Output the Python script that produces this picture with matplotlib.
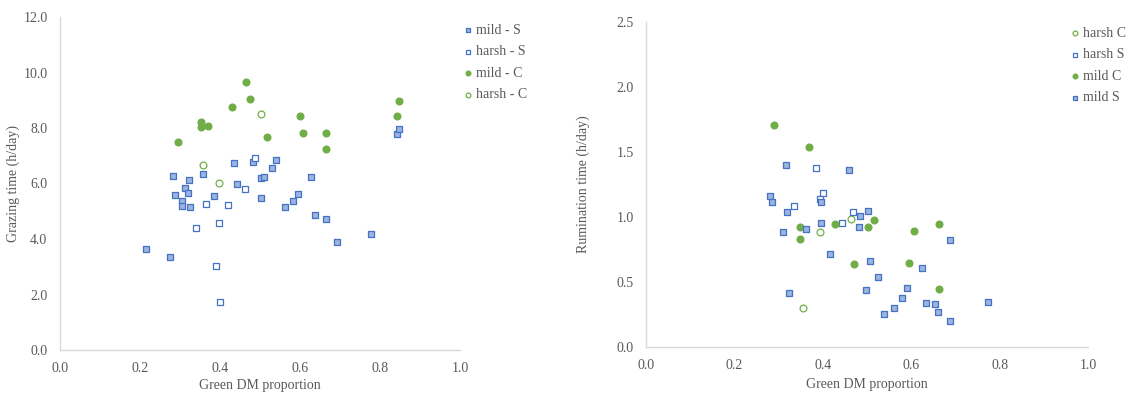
import matplotlib
matplotlib.use("Agg")
import matplotlib.pyplot as plt

# ---------------- Left chart: grazing time ----------------
g_mild_s_x = [0.283, 0.323, 0.358, 0.435, 0.482, 0.541, 0.530, 0.503, 0.511, 0.628,
              0.442, 0.287, 0.312, 0.319, 0.385, 0.502, 0.595, 0.842, 0.848, 0.304,
              0.305, 0.325, 0.5625, 0.5825, 0.637, 0.664, 0.6925, 0.777, 0.214, 0.276]
g_mild_s_y = [6.28, 6.14, 6.34, 6.74, 6.76, 6.85, 6.57, 6.19, 6.22, 6.25,
              5.99, 5.60, 5.85, 5.66, 5.54, 5.47, 5.62, 7.77, 7.97, 5.37,
              5.19, 5.16, 5.16, 5.38, 4.85, 4.71, 3.90, 4.17, 3.64, 3.36]
g_harsh_s_x = [0.4875, 0.462, 0.365, 0.420, 0.339, 0.397, 0.390, 0.400]
g_harsh_s_y = [6.93, 5.79, 5.25, 5.23, 4.41, 4.56, 3.02, 1.73]
g_mild_c_x = [0.294, 0.3525, 0.3525, 0.371, 0.430, 0.466, 0.476, 0.5175, 0.599, 0.608,
              0.666, 0.666, 0.842, 0.848]
g_mild_c_y = [7.49, 8.23, 8.02, 8.08, 8.77, 9.67, 9.03, 7.66, 8.43, 7.83,
              7.83, 7.23, 8.43, 8.97]
g_harsh_c_x = [0.503, 0.357, 0.397]
g_harsh_c_y = [8.52, 6.68, 6.03]

# ---------------- Right chart: rumination time ----------------
r_harsh_c_x = [0.355, 0.394, 0.464]
r_harsh_c_y = [0.295, 0.885, 0.985]
r_harsh_s_x = [0.385, 0.400, 0.394, 0.3355, 0.4445, 0.468]
r_harsh_s_y = [1.377, 1.180, 1.134, 1.082, 0.954, 1.039]
r_mild_c_x = [0.290, 0.369, 0.349, 0.349, 0.428, 0.516, 0.5015, 0.606, 0.664, 0.4705,
              0.596, 0.662]
r_mild_c_y = [1.705, 1.540, 0.923, 0.826, 0.941, 0.972, 0.923, 0.892, 0.941, 0.636,
              0.644, 0.441]
r_mild_s_x = [0.317, 0.459, 0.281, 0.286, 0.396, 0.320, 0.310, 0.363, 0.395, 0.485,
              0.5015, 0.481, 0.688, 0.417, 0.507, 0.625, 0.525, 0.498, 0.590, 0.324,
              0.580, 0.5605, 0.5385, 0.6325, 0.654, 0.6605, 0.688, 0.7735]
r_mild_s_y = [1.400, 1.360, 1.162, 1.113, 1.113, 1.034, 0.880, 0.905, 0.949, 1.003,
              1.046, 0.918, 0.821, 0.710, 0.659, 0.608, 0.534, 0.434, 0.454, 0.410,
              0.377, 0.295, 0.251, 0.336, 0.326, 0.270, 0.195, 0.341]

x_ticks = [0.0, 0.2, 0.4, 0.6, 0.8, 1.0]
g_ticks = [0.0, 2.0, 4.0, 6.0, 8.0, 10.0, 12.0]
r_ticks = [0.0, 0.5, 1.0, 1.5, 2.0, 2.5]

plt.rcParams['font.family'] = ['Liberation Serif', 'DejaVu Serif']

BLUE_E = '#4472c4'
BLUE_F = '#9db3e0'
GREEN = '#70ad47'
GREY = '#595959'
SPINE = '#d9d9d9'

fig = plt.figure(figsize=(11.36, 3.94), dpi=100)
axL = fig.add_axes([60/1136, 44/394, 400/1136, 333/394])
axR = fig.add_axes([646/1136, 47.3/394, 442/1136, 324.7/394])

sq = dict(marker='s', s=24, linewidths=0.9)
ci = dict(marker='o', s=24, linewidths=0.9)


def style(ax, yticks, ylabel, xpad, ypad):
    ax.set_xlim(0, 1.0)
    ax.set_ylim(yticks[0], yticks[-1])
    ax.set_xticks(x_ticks)
    ax.set_xticklabels([f"{t:.1f}" for t in x_ticks])
    ax.set_yticks(yticks)
    ax.set_yticklabels([f"{t:.1f}" for t in yticks])
    for s in ['top', 'right']:
        ax.spines[s].set_visible(False)
    for s in ['left', 'bottom']:
        ax.spines[s].set_color(SPINE)
        ax.spines[s].set_linewidth(1.0)
    ax.tick_params(length=0, labelsize=10, colors=GREY, pad=9)
    ax.set_xlabel('Green DM proportion', fontsize=10, color=GREY, labelpad=xpad)
    ax.set_ylabel(ylabel, fontsize=10, color=GREY, labelpad=ypad)


hL = []
hL.append(axL.scatter(g_mild_s_x, g_mild_s_y, facecolor=BLUE_F, edgecolor=BLUE_E, label='mild - S', zorder=3, **sq))
hL.append(axL.scatter(g_harsh_s_x, g_harsh_s_y, facecolor='white', edgecolor=BLUE_E, label='harsh - S', zorder=3, **sq))
hL.append(axL.scatter(g_mild_c_x, g_mild_c_y, facecolor=GREEN, edgecolor=GREEN, label='mild - C', zorder=3, **ci))
hL.append(axL.scatter(g_harsh_c_x, g_harsh_c_y, facecolor='white', edgecolor=GREEN, label='harsh - C', zorder=3, **ci))
style(axL, g_ticks, 'Grazing time (h/day)', 2.5, 2)
axL.legend(handles=hL, loc='upper left', bbox_to_anchor=(454/1136, 1 - 18/394),
           bbox_transform=fig.transFigure, frameon=False, fontsize=10,
           markerscale=0.7, handletextpad=0.0, labelspacing=0.62, labelcolor=GREY,
           handlelength=1.2, borderaxespad=0)

hR = []
hR.append(axR.scatter(r_harsh_c_x, r_harsh_c_y, facecolor='white', edgecolor=GREEN, label='harsh C', zorder=3, **ci))
hR.append(axR.scatter(r_harsh_s_x, r_harsh_s_y, facecolor='white', edgecolor=BLUE_E, label='harsh S', zorder=3, **sq))
hR.append(axR.scatter(r_mild_c_x, r_mild_c_y, facecolor=GREEN, edgecolor=GREEN, label='mild C', zorder=3, **ci))
hR.append(axR.scatter(r_mild_s_x, r_mild_s_y, facecolor=BLUE_F, edgecolor=BLUE_E, label='mild S', zorder=3, **sq))
style(axR, r_ticks, 'Rumination time (h/day)', 4, 19)
axR.legend(handles=hR, loc='upper left', bbox_to_anchor=(1061/1136, 1 - 21/394),
           bbox_transform=fig.transFigure, frameon=False, fontsize=10,
           markerscale=0.7, handletextpad=0.0, labelspacing=0.62, labelcolor=GREY,
           handlelength=1.2, borderaxespad=0)

fig.savefig('out.png', dpi=100)
